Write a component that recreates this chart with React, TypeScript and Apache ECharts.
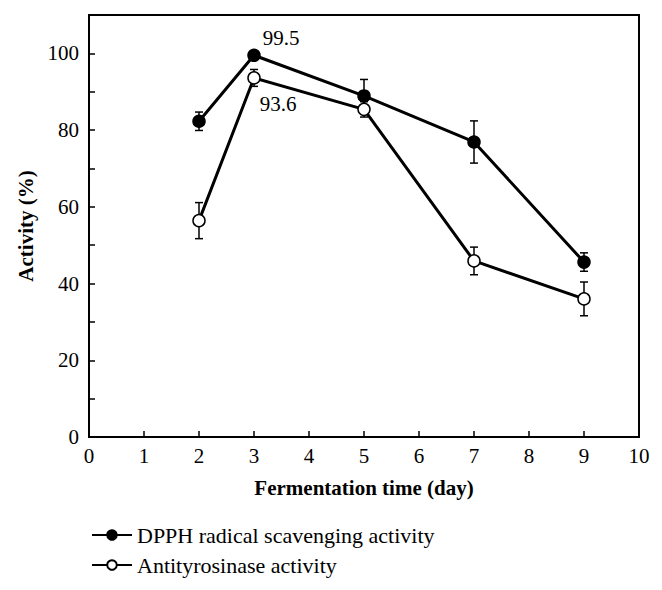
import React, { useEffect, useRef } from "react";
import * as echarts from "echarts";

const days = [2, 3, 5, 7, 9];
const dpph = [82.3, 99.5, 88.9, 76.9, 45.6];
const dpphErr = [2.4, 1.0, 4.3, 5.5, 2.4];
const tyro = [56.4, 93.6, 85.4, 45.9, 36.0];
const tyroErr = [4.7, 2.2, 2.0, 3.6, 4.4];
const seriesNames = ["DPPH radical scavenging activity", "Antityrosinase activity"];

const FONT = "Liberation Serif";

function errSeries(vals: number[], errs: number[]) {
  return {
    type: "custom",
    z: 1,
    silent: true,
    data: days.map((d, i) => [d, vals[i] - errs[i], vals[i] + errs[i]]),
    renderItem: (params: any, api: any) => {
      const x = api.value(0);
      const lo = api.coord([x, api.value(1)]);
      const hi = api.coord([x, api.value(2)]);
      const w = 4;
      const st = { stroke: "#000", lineWidth: 1.5 };
      return {
        type: "group",
        children: [
          { type: "line", shape: { x1: lo[0], y1: lo[1], x2: hi[0], y2: hi[1] }, style: st },
          { type: "line", shape: { x1: lo[0] - w, y1: lo[1], x2: lo[0] + w, y2: lo[1] }, style: st },
          { type: "line", shape: { x1: hi[0] - w, y1: hi[1], x2: hi[0] + w, y2: hi[1] }, style: st },
        ],
      };
    },
  };
}

export default function App() {
  const ref = useRef<HTMLDivElement>(null);
  useEffect(() => {
    const chart = echarts.init(ref.current!, null, { renderer: "svg" });
    chart.setOption({
      animation: false,
      textStyle: { fontFamily: FONT },
      grid: {
        left: 89,
        right: 23,
        top: 15,
        bottom: 153,
        show: true,
        borderColor: "#000",
        borderWidth: 2,
        backgroundColor: "transparent",
      },
      legend: {
        orient: "vertical",
        left: 86,
        top: 519,
        itemWidth: 40,
        itemHeight: 12,
        itemGap: 8,
        data: seriesNames,
        textStyle: { fontFamily: FONT, fontSize: 22, color: "#000" },
      },
      xAxis: {
        type: "value",
        min: 0,
        max: 10,
        interval: 1,
        name: "Fermentation time (day)",
        nameLocation: "middle",
        nameGap: 40,
        nameTextStyle: { fontFamily: FONT, fontSize: 21, fontWeight: "bold", color: "#000" },
        axisLine: { lineStyle: { color: "#000", width: 2 } },
        axisTick: { inside: true, length: 6, lineStyle: { color: "#000", width: 1.5 } },
        axisLabel: { fontFamily: FONT, fontSize: 21, color: "#000", margin: 8 },
        splitLine: { show: false },
      },
      yAxis: {
        type: "value",
        min: 0,
        max: 110,
        interval: 20,
        name: "Activity (%)",
        nameLocation: "middle",
        nameGap: 50,
        nameTextStyle: { fontFamily: FONT, fontSize: 21, fontWeight: "bold", color: "#000" },
        axisLine: { show: true, lineStyle: { color: "#000", width: 2 } },
        axisTick: { inside: true, length: 6, lineStyle: { color: "#000", width: 1.5 } },
        minorTick: { show: true, splitNumber: 2, length: 6, lineStyle: { color: "#000", width: 1.5 } },
        axisLabel: {
          fontFamily: FONT,
          fontSize: 21,
          color: "#000",
          margin: 10,
          formatter: (v: number) => (v > 100 ? "" : String(v)),
        },
        splitLine: { show: false },
      },
      series: [
        errSeries(dpph, dpphErr),
        errSeries(tyro, tyroErr),
        {
          name: seriesNames[0],
          type: "line",
          z: 3,
          data: days.map((d, i) =>
            i === 1
              ? {
                  value: [d, dpph[i]],
                  label: {
                    show: true,
                    position: "right",
                    offset: [-3, -17],
                    formatter: "{@[1]}",
                    fontFamily: FONT,
                    fontSize: 21,
                    color: "#000",
                  },
                }
              : [d, dpph[i]]
          ),
          symbol: "circle",
          symbolSize: 12,
          itemStyle: { color: "#000", borderColor: "#000", borderWidth: 1.5 },
          lineStyle: { color: "#000", width: 3 },
        },
        {
          name: seriesNames[1],
          type: "line",
          z: 3,
          data: days.map((d, i) =>
            i === 1
              ? {
                  value: [d, tyro[i]],
                  label: {
                    show: true,
                    position: "right",
                    offset: [-6, 26],
                    formatter: "{@[1]}",
                    fontFamily: FONT,
                    fontSize: 21,
                    color: "#000",
                  },
                }
              : [d, tyro[i]]
          ),
          symbol: "circle",
          symbolSize: 12,
          itemStyle: { color: "#fff", borderColor: "#000", borderWidth: 1.5 },
          lineStyle: { color: "#000", width: 3 },
        },
      ],
    });
    return () => chart.dispose();
  }, []);
  return (
    <div
      ref={ref}
      style={{ position: "absolute", left: 0, top: 0, width: 662, height: 590 }}
    />
  );
}
